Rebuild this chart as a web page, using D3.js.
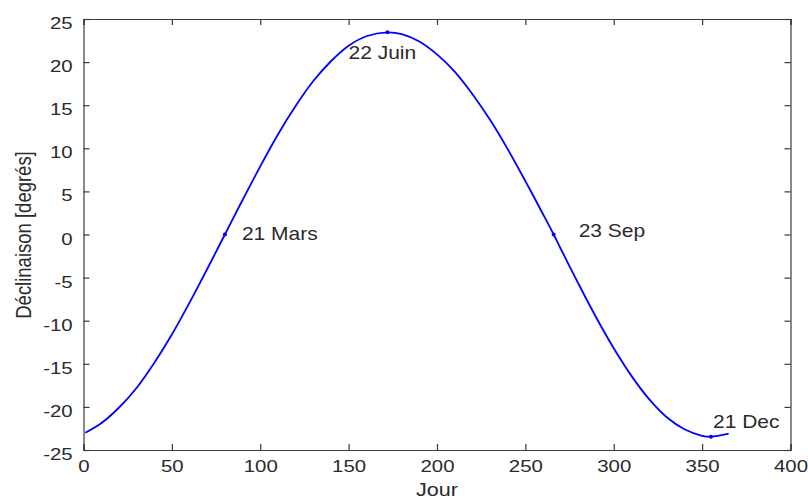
<!DOCTYPE html>
<html lang="fr">
  <head>
    <meta charset="utf-8">
    <title>Déclinaison solaire</title>
    <style>
      body { margin: 0; background: #fff; }
      text { font-family: "Liberation Sans", Arial, sans-serif; fill: #2a2a2a; }
    </style>
  </head>
  <body>
    <svg id="chart" width="808" height="501"></svg>
    <script src="https://d3js.org/d3.v7.min.js"></script>
    <script>
      // values
      let days = [1, 10, 20, 30, 40, 50, 60, 70, 80, 90, 100, 110, 120, 130, 140, 150, 160, 172,
                  180, 190, 200, 210, 220, 230, 240, 250, 260, 266, 270, 280, 290, 300, 310, 320,
                  330, 340, 350, 355, 365]
      let declinaison = [-23.0, -21.9, -20.1, -17.8, -14.9, -11.6, -7.9, -4.0, 0.0, 4.0, 7.9, 11.6,
                         14.9, 17.8, 20.1, 21.9, 23.0, 23.45, 23.24, 22.4, 20.9, 18.9, 16.3, 13.3,
                         9.9, 6.2, 2.35, 0.0, -1.65, -5.7, -9.6, -13.2, -16.4, -19.1, -21.2, -22.6,
                         -23.35, -23.45, -23.1]

      let markDays = [80, 172, 266, 355]
      let markValues = [0.0, 23.45, 0.0, -23.45]
      let markLabels = ["21 Mars", "22 Juin", "23 Sep", "21 Dec"]

      let xTicks = [0, 50, 100, 150, 200, 250, 300, 350, 400]
      let yTicks = [-25, -20, -15, -10, -5, 0, 5, 10, 15, 20, 25]

      let svg = d3.select("#chart")
      let mLeft = 83.5, mRight = 790.5, mTop = 19, mBottom = 450
      let stretch = 1.2

      let x = d3.scaleLinear().domain([0, 400]).range([mLeft, mRight])
      let y = d3.scaleLinear().domain([-25, 25]).range([mBottom, mTop])

      // axes, ticks pointing inwards like matlab, plain hyphen for minus
      let fmt = d => String(d)
      let xAxis = d3.axisBottom(x).tickValues(xTicks).tickFormat(fmt).tickSize(-6).tickPadding(10)
      let yAxis = d3.axisLeft(y).tickValues(yTicks).tickFormat(fmt).tickSize(-6).tickPadding(9)

      let gx = svg.append("g").attr("transform", `translate(0,${mBottom})`).call(xAxis)
      let gy = svg.append("g").attr("transform", `translate(${mLeft},0)`).call(yAxis)
      svg.append("g").attr("transform", `translate(0,${mTop})`)
        .call(d3.axisTop(x).tickValues(xTicks).tickSize(-6).tickFormat(""))
      svg.append("g").attr("transform", `translate(${mRight},0)`)
        .call(d3.axisRight(y).tickValues(yTicks).tickSize(-6).tickFormat(""))

      svg.selectAll(".domain").attr("stroke", "#3a3a3a").attr("stroke-width", 1.2)
      svg.selectAll(".tick line").attr("stroke", "#3a3a3a").attr("stroke-width", 1.2)
      svg.selectAll(".tick text").style("font-size", "17px").attr("fill", "#2a2a2a")
        .attr("transform", `scale(${stretch},1)`)
      gy.selectAll(".tick text").attr("dy", "0.56em")

      // curve
      let pts = days.map((d, i) => [d, declinaison[i]])
      let line = d3.line().x(d => x(d[0])).y(d => y(d[1])).curve(d3.curveCatmullRom)
      svg.append("path").datum(pts)
        .attr("d", line)
        .attr("fill", "none")
        .attr("stroke", "#0000ff")
        .attr("stroke-width", 1.8)

      svg.selectAll("circle.mark").data(markDays).enter()
        .append("circle")
        .attr("class", "mark")
        .attr("cx", d => x(d))
        .attr("cy", (d, i) => y(markValues[i]))
        .attr("r", 2)
        .attr("fill", "#0000ff")

      let offsets = [[17, 5], [-39, 27], [25, 2], [2, -9]]
      svg.selectAll("text.mark").data(markLabels).enter()
        .append("text")
        .attr("class", "mark")
        .attr("transform", (d, i) => `translate(${x(markDays[i]) + offsets[i][0]},${y(markValues[i]) + offsets[i][1]}) scale(${stretch},1)`)
        .style("font-size", "17.5px")
        .text(d => d)

      // axis titles
      svg.append("text")
        .attr("transform", `translate(437,496) scale(${stretch},1)`)
        .attr("text-anchor", "middle")
        .style("font-size", "18px")
        .text("Jour")

      svg.append("text")
        .attr("transform", `translate(31,235) scale(${stretch},1) rotate(-90)`)
        .attr("text-anchor", "middle")
        .style("font-size", "18.5px")
        .text("Déclinaison [degrés]")
    </script>
  </body>
</html>
